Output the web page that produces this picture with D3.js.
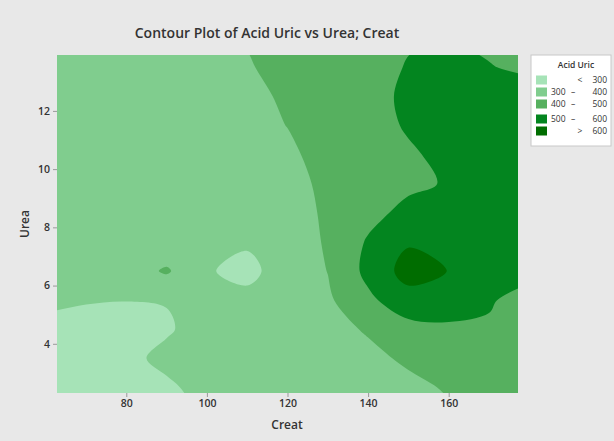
<!DOCTYPE html>
<html>
<head>
<meta charset="utf-8">
<script src="https://d3js.org/d3.v7.min.js"></script>
<style>
  body { margin: 0; background: #e8e8e8; }
  text { font-family: "Open Sans", sans-serif; fill: #333; }
</style>
</head>
<body>
<div id="chart"></div>
<script>
// grid nodes (Creat across, Urea down from top)
var creatGrid = [60, 70, 80, 90, 100, 110, 120, 130, 140, 150, 160, 170, 180];
var ureaGrid = [14.5, 13.5, 12.5, 11.5, 10.5, 9.5, 8.5, 7.5, 6.5, 5.5, 4.5, 3.5, 2.5, 1.5];

// Acid Uric, one row per Urea value
var acidUric = [
  [345, 355, 365, 375, 392, 404, 440, 460, 475, 492, 505, 480, 460], // 14.5
  [340, 350, 360, 370, 382, 395, 420, 445, 470, 505, 530, 505, 480], // 13.5
  [335, 345, 355, 365, 375, 388, 407, 440, 475, 514, 545, 545, 535], // 12.5
  [330, 340, 350, 360, 370, 382, 401, 430, 470, 508, 545, 555, 545], // 11.5
  [325, 335, 345, 355, 365, 375, 390, 420, 460, 490, 520, 555, 550], // 10.5
  [320, 330, 340, 350, 360, 370, 385, 410, 450, 480, 508, 545, 550], // 9.5
  [318, 328, 338, 348, 358, 368, 383, 406, 470, 527, 540, 555, 555], // 8.5
  [330, 335, 335, 330, 318, 309, 345, 411, 510, 590, 585, 570, 560], // 7.5
  [320, 330, 350, 412, 306, 280, 336, 402, 526, 640, 598, 570, 555], // 6.5
  [306, 303, 301, 303, 315, 320, 345, 385, 480, 560, 555, 520, 420], // 5.5
  [289, 283, 280, 292, 330, 345, 360, 380, 406, 468, 482, 475, 455], // 4.5
  [270, 272, 282, 318, 325, 335, 350, 365, 385, 410, 440, 455, 450], // 3.5
  [260, 262, 270, 288, 324, 335, 345, 355, 370, 385, 406, 430, 440], // 2.5
  [255, 258, 265, 280, 305, 320, 335, 345, 358, 372, 390, 410, 420]  // 1.5
];

var levels = [300, 400, 500, 600];
var bandColors = ["#a6e3b7", "#80cd8e", "#56b05f", "#03851f", "#006d00"];
var legendLow = ["<", "300", "400", "500", ">"];
var legendHigh = ["300", "400", "500", "600", "600"];
var creatTicks = [80, 100, 120, 140, 160];
var ureaTicks = [4, 6, 8, 10, 12];

var margin = {top: 55, left: 57},
    width = 461,
    height = 338;

var svg = d3.select("#chart")
  .append("svg")
    .attr("width", 614)
    .attr("height", 441);

svg.append("rect")
  .attr("width", 614)
  .attr("height", 441)
  .attr("fill", "#e8e8e8");

var g = svg.append("g")
  .attr("transform", "translate(" + margin.left + "," + margin.top + ")");

var x = d3.scaleLinear().domain([62.8, 177.2]).range([0, width]);
var y = d3.scaleLinear().domain([2.31, 13.92]).range([height, 0]);

// contour grid coords -> data values (node i sits at i + 0.5)
var nx = creatGrid.length, ny = ureaGrid.length;
var gx = d3.scaleLinear().domain([0.5, nx - 0.5]).range([creatGrid[0], creatGrid[nx - 1]]);
var gy = d3.scaleLinear().domain([0.5, ny - 0.5]).range([ureaGrid[0], ureaGrid[ny - 1]]);

g.append("clipPath").attr("id", "clip")
  .append("rect").attr("width", width).attr("height", height);

var plot = g.append("g").attr("clip-path", "url(#clip)");

plot.append("rect")
  .attr("width", width)
  .attr("height", height)
  .attr("fill", bandColors[0]);

var contours = d3.contours()
  .size([nx, ny])
  .thresholds(levels)(acidUric.flat());

var line = d3.line().curve(d3.curveCatmullRomClosed.alpha(0.5));

plot.selectAll("path.band")
  .data(contours)
  .join("path")
    .attr("class", "band")
    .attr("fill", function(d, i) { return bandColors[i + 1]; })
    .attr("fill-rule", "evenodd")
    .attr("d", function(d) {
      return d.coordinates.map(function(poly) {
        return poly.map(function(ring) {
          return line(ring.slice(0, -1).map(function(p) {
            return [x(gx(p[0])), y(gy(p[1]))];
          }));
        }).join("");
      }).join("");
    });

// axes
var xAxis = g.append("g")
  .attr("transform", "translate(0," + height + ")")
  .call(d3.axisBottom(x).tickValues(creatTicks).tickSize(4).tickPadding(3).tickSizeOuter(0));
var yAxis = g.append("g")
  .call(d3.axisLeft(y).tickValues(ureaTicks).tickSize(4).tickPadding(3).tickSizeOuter(0));

[xAxis, yAxis].forEach(function(a) {
  a.select(".domain").remove();
  a.selectAll(".tick line").attr("stroke", "#999");
  a.selectAll(".tick text")
    .style("font-family", "'Open Sans', sans-serif")
    .style("font-size", "10.5px")
    .style("font-weight", 600)
    .attr("fill", "#333");
});

// title and axis labels
svg.append("text")
  .attr("x", 267)
  .attr("y", 38)
  .attr("text-anchor", "middle")
  .style("font-size", "14px")
  .style("font-weight", 600)
  .text("Contour Plot of Acid Uric vs Urea; Creat");

svg.append("text")
  .attr("x", 287)
  .attr("y", 429)
  .attr("text-anchor", "middle")
  .style("font-size", "12px")
  .style("font-weight", 600)
  .text("Creat");

svg.append("text")
  .attr("transform", "translate(29,224) rotate(-90)")
  .attr("text-anchor", "middle")
  .style("font-size", "12px")
  .style("font-weight", 600)
  .text("Urea");

// legend
var legend = svg.append("g");
legend.append("rect")
  .attr("x", 531).attr("y", 55)
  .attr("width", 80).attr("height", 91)
  .attr("fill", "white")
  .attr("stroke", "#c8c8c8");

legend.append("text")
  .attr("x", 576).attr("y", 68)
  .attr("text-anchor", "middle")
  .style("font-size", "8.5px")
  .style("font-weight", 600)
  .text("Acid Uric");

var rowY = [80, 92, 104, 119, 131];
var rows = legend.selectAll("g.row")
  .data(bandColors)
  .join("g")
    .attr("class", "row")
    .attr("transform", function(d, i) { return "translate(0," + rowY[i] + ")"; });

rows.append("rect")
  .attr("x", 536).attr("y", -4.5)
  .attr("width", 11).attr("height", 9)
  .attr("fill", function(d) { return d; });

rows.append("text")
  .attr("x", function(d, i) { return (i === 0 || i === 4) ? 580 : 551; })
  .attr("y", 3)
  .attr("text-anchor", function(d, i) { return (i === 0 || i === 4) ? "middle" : "start"; })
  .style("font-size", "8.5px")
  .text(function(d, i) { return legendLow[i]; });

rows.append("text")
  .attr("x", 573).attr("y", 3)
  .attr("text-anchor", "middle")
  .style("font-size", "8.5px")
  .text(function(d, i) { return (i === 0 || i === 4) ? "" : "\u2013"; });

rows.append("text")
  .attr("x", 607).attr("y", 3)
  .attr("text-anchor", "end")
  .style("font-size", "8.5px")
  .text(function(d, i) { return legendHigh[i]; });
</script>
</body>
</html>
